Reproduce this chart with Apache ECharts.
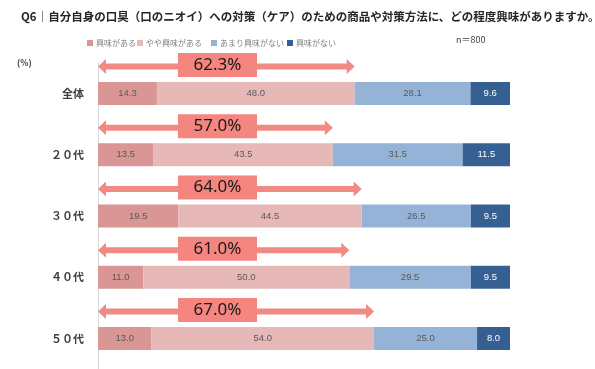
<!DOCTYPE html>
<html><head><meta charset="utf-8">
<script src="https://cdn.jsdelivr.net/npm/echarts@6/dist/echarts.min.js"></script>
<style>html,body{margin:0;padding:0;background:#fff}#c{width:595px;height:369px}</style>
</head><body><div id="c"></div>
<script>
const categories = ['全体', '２０代', '３０代', '４０代', '５０代'];
const seriesNames = ['興味がある', 'やや興味がある', 'あまり興味がない', '興味がない'];
const interested = [14.3, 13.5, 19.5, 11.0, 13.0];
const somewhat = [48.0, 43.5, 44.5, 50.0, 54.0];
const notMuch = [28.1, 31.5, 26.5, 29.5, 25.0];
const notAtAll = [9.6, 11.5, 9.5, 9.5, 8.0];
const totals = [62.3, 57.0, 64.0, 61.0, 67.0];
const colors = ['#d99694', '#e6b9b8', '#95b3d7', '#376092'];
const labelColors = ['#595959', '#595959', '#595959', '#ffffff'];
const values = [interested, somewhat, notMuch, notAtAll];

const chart = echarts.init(document.getElementById('c'));
const FONT = '"Noto Sans CJK JP", "Noto Sans", sans-serif';

const barSeries = values.map((arr, i) => ({
  name: seriesNames[i],
  type: 'bar',
  stack: 'total',
  barWidth: 23,
  data: arr,
  itemStyle: { color: colors[i] },
  label: {
    show: true, position: 'inside', fontSize: 9.5, color: labelColors[i], fontWeight: 'normal',
    fontFamily: '"Liberation Sans Narrow", "Liberation Sans", sans-serif',
    formatter: p => p.value.toFixed(1)
  },
  emphasis: { disabled: true },
  silent: true
}));

const arrowSeries = {
  type: 'custom',
  silent: true,
  encode: { x: 0, y: 1 },
  data: totals.map((t, i) => [t, i]),
  z: 5,
  renderItem: function (params, api) {
    const cat = api.value(1);
    const s = api.coord([0, cat]);
    const e = api.coord([api.value(0), cat]);
    const y = s[1] - 27;
    const x0 = s[0], x1 = e[0];
    const sh = 3, hh = 7.5, hl = 8;
    const pts = [
      [x0, y], [x0 + hl, y - hh], [x0 + hl, y - sh], [x1 - hl, y - sh], [x1 - hl, y - hh],
      [x1, y], [x1 - hl, y + hh], [x1 - hl, y + sh], [x0 + hl, y + sh], [x0 + hl, y + hh]
    ];
    return {
      type: 'group',
      children: [
        { type: 'polygon', shape: { points: pts }, style: { fill: '#f08a85' } },
        { type: 'rect', shape: { x: x0 + 80, y: y - 13.5, width: 79, height: 24 }, style: { fill: '#f4857f' } },
        { type: 'text', style: { text: api.value(0).toFixed(1) + '%', x: x0 + 119.5, y: y - 1.5,
            align: 'center', verticalAlign: 'middle', fontSize: 17, fill: '#1a1a1a',
            fontFamily: '"Noto Sans", sans-serif' } }
      ]
    };
  }
};

const legendPos = [82, 132, 206, 282];
chart.setOption({
  animation: false,
  title: {
    text: 'Q6｜自分自身の口臭（口のニオイ）への対策（ケア）のための商品や対策方法に、どの程度興味がありますか。',
    left: 16, top: 6,
    textStyle: { fontSize: 11.5, fontWeight: 'bold', color: '#262626', fontFamily: FONT }
  },
  legend: seriesNames.map((n, i) => ({
    data: [n], left: legendPos[i], top: 34, icon: 'rect', itemWidth: 6, itemHeight: 6, itemGap: 3,
    selectedMode: false,
    textStyle: { fontSize: 8, color: '#7f7f7f', fontFamily: FONT, padding: [0, 0, 0, -2] }
  })),
  graphic: [
    { type: 'text', left: 456, top: 35, style: { text: 'n＝800', fontSize: 9, fill: '#404040', fontFamily: FONT } },
    { type: 'text', left: 17, top: 59, style: { text: '(%)', fontSize: 8.5, fontWeight: 'bold', fill: '#404040', fontFamily: FONT } }
  ],
  grid: { left: 98, right: 85, top: 63, bottom: 0, containLabel: false },
  xAxis: { type: 'value', min: 0, max: 100, show: false },
  yAxis: {
    type: 'category', data: categories, inverse: true,
    axisLine: { show: true, lineStyle: { color: '#d9d9d9' } },
    axisTick: { show: false },
    axisLabel: { fontSize: 11, fontWeight: 'bold', color: '#404040', margin: 14, fontFamily: FONT }
  },
  series: [...barSeries, arrowSeries]
});
</script>
</body></html>
